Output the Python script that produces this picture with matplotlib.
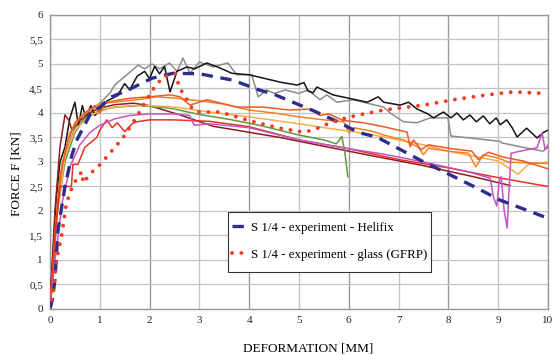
import numpy as np
import matplotlib.pyplot as plt
from matplotlib.patches import Rectangle
from matplotlib.ticker import FuncFormatter

plt.rcParams['font.family'] = ['Liberation Serif', 'DejaVu Serif']

# Helifix experiment (dashed)
helifix_x = [0, 0.05, 0.1, 0.16, 0.3, 0.44, 0.54, 0.8, 1.0, 1.24, 1.57, 2.05, 2.47, 3.0, 3.67,
             4.2, 4.5, 5.28, 5.76, 6.2, 6.56, 7.43, 8.57, 9.04, 9.98]
helifix_y = [0, 0.2, 0.6, 1.6, 2.5, 3.14, 3.45, 3.96, 4.12, 4.33, 4.47, 4.71, 4.81, 4.8, 4.67,
             4.47, 4.38, 4.05, 3.83, 3.6, 3.51, 3.04, 2.47, 2.22, 1.86]

# GFRP experiment (dotted)
gfrp_x = [0, 0.07, 0.13, 0.23, 0.33, 0.44, 0.54, 0.64, 0.67, 0.74, 0.85, 1.0, 1.37, 1.47, 1.74,
          1.94, 2.1, 2.27, 2.51, 2.61, 2.75, 2.85, 2.95, 3.41, 3.75, 4.16, 4.62, 5.08, 5.28,
          5.68, 6.02, 6.69, 7.5, 8.1, 8.77, 9.3, 9.9]
gfrp_y = [0, 0.4, 1.0, 1.47, 2.16, 2.47, 2.67, 2.8, 2.57, 2.67, 2.8, 2.94, 3.38, 3.5, 3.92,
          4.27, 4.53, 4.73, 4.81, 4.5, 4.27, 4.1, 4.02, 4.02, 3.92, 3.8, 3.69, 3.61, 3.65,
          3.82, 3.92, 4.06, 4.16, 4.27, 4.37, 4.43, 4.4]

# other specimens (solid)
black_x = [0, 0.05, 0.12, 0.2, 0.3, 0.4, 0.5, 0.57, 0.65, 0.72, 0.82, 0.9, 1.0, 1.15, 1.35,
           1.5, 1.6, 1.75, 1.9, 2.0, 2.1, 2.2, 2.3, 2.41, 2.55, 2.75, 2.9, 3.15, 3.41, 3.65,
           4.0, 4.62, 4.96, 5.1, 5.18, 5.28, 5.36, 5.68, 6.37, 6.59, 6.7, 7.03, 7.2, 7.37,
           7.59, 7.7, 7.9, 8.05, 8.17, 8.3, 8.43, 8.56, 8.7, 8.83, 8.96, 9.04, 9.17, 9.28,
           9.38, 9.57, 9.78, 9.9, 10.0]
black_y = [0, 1.0, 2.2, 3.0, 3.3, 3.9, 4.22, 3.75, 4.15, 3.9, 4.15, 3.95, 4.05, 4.25, 4.35,
           4.6, 4.47, 4.75, 4.85, 4.7, 4.95, 4.8, 4.95, 4.43, 4.85, 4.94, 4.9, 5.02, 4.92, 4.81,
           4.78, 4.63, 4.57, 4.62, 4.45, 4.41, 4.53, 4.37, 4.22, 4.33, 4.22, 4.16, 4.22, 4.08,
           3.98, 3.9, 4.02, 3.9, 4.0, 3.86, 3.96, 3.82, 3.94, 3.78, 3.9, 3.76, 3.86, 3.7,
           3.51, 3.69, 3.49, 3.6, 3.65]

gray_x = [0, 0.1, 0.25, 0.5, 0.8, 1.0, 1.2, 1.3, 1.45, 1.57, 1.77, 1.9, 2.05, 2.2, 2.4, 2.55,
          2.67, 2.81, 3.0, 3.27, 3.57, 3.75, 4.05, 4.18, 4.35, 4.5, 4.72, 5.0, 5.18, 5.42,
          5.56, 5.76, 6.09, 6.37, 6.7, 6.83, 7.1, 7.37, 7.63, 7.99, 8.05, 8.43, 9.04, 9.07,
          9.64, 9.9, 10.0]
gray_y = [0, 1.5, 3.0, 3.7, 4.0, 4.2, 4.4, 4.57, 4.7, 4.8, 4.98, 4.9, 5.0, 4.9, 5.02, 4.85,
          5.12, 4.81, 5.04, 4.94, 5.02, 4.78, 4.78, 4.33, 4.47, 4.4, 4.47, 4.4, 4.47, 4.27,
          4.37, 4.22, 4.27, 4.2, 4.12, 4.0, 3.82, 3.8, 3.9, 3.9, 3.53, 3.49, 3.42, 3.39,
          3.27, 3.22, 3.3]

maroon_x = [0, 0.1, 0.2, 0.3, 0.38, 0.44, 0.6, 0.8, 1.0, 1.3, 1.67, 2.0, 2.61, 3.27, 4.62,
            5.5, 6.5, 7.43, 8.5, 9.24]
maroon_y = [0, 2.0, 3.3, 3.96, 3.85, 3.65, 3.85, 4.0, 4.1, 4.17, 4.2, 4.15, 3.96, 3.73, 3.5,
            3.32, 3.12, 2.94, 2.7, 2.52]

green_x = [0, 0.15, 0.3, 0.5, 0.7, 1.0, 1.3, 1.8, 2.41, 3.0, 3.6, 4.2, 5.0, 5.5, 5.75, 5.86,
           5.92, 5.98]
green_y = [0, 2.0, 3.0, 3.6, 3.9, 4.05, 4.12, 4.15, 4.1, 3.97, 3.87, 3.75, 3.55, 3.45, 3.37,
           3.52, 3.2, 2.7]

magenta_x = [0, 0.1, 0.25, 0.4, 0.6, 0.8, 1.0, 1.3, 1.6, 2.0, 2.5, 2.8, 2.9, 3.2, 4.0, 5.0,
             6.0, 6.7, 7.5, 8.4, 8.84, 8.9, 8.97, 9.02, 9.06, 9.12, 9.18, 9.22, 9.26, 9.44,
             9.78, 9.88, 9.94, 10.0]
magenta_y = [0, 1.0, 2.2, 2.9, 3.35, 3.6, 3.75, 3.88, 3.95, 3.98, 3.98, 3.95, 3.75, 3.78,
             3.7, 3.45, 3.27, 3.16, 3.0, 2.8, 2.67, 2.3, 2.1, 2.6, 2.7, 2.0, 1.65, 2.5, 3.18,
             3.22, 3.29, 3.59, 3.26, 3.35]

red_x = [0, 0.1, 0.2, 0.43, 0.46, 0.56, 0.7, 0.94, 1.0, 1.14, 1.25, 1.35, 1.5, 1.65, 1.74,
         2.0, 2.47, 3.2, 4.0, 5.0, 6.0, 7.0, 8.0, 9.0, 10.0]
red_y = [0, 1.5, 2.5, 2.5, 2.95, 2.95, 3.3, 3.5, 3.65, 3.86, 3.7, 3.8, 3.62, 3.78, 3.82,
         3.86, 3.86, 3.83, 3.72, 3.45, 3.27, 3.05, 2.88, 2.68, 2.5]

orange1_x = [0, 0.1, 0.2, 0.35, 0.5, 0.7, 0.9, 1.0, 1.1, 1.3, 1.6, 2.0, 2.41, 2.61, 2.81, 3.15,
             3.75, 4.28, 4.82, 5.22, 5.42, 5.6, 5.88, 6.3, 6.7, 7.17, 7.23, 7.3, 7.45, 7.6,
             8.0, 8.47, 8.6, 8.8, 9.1, 9.5, 10.0]
orange1_y = [0, 1.5, 2.7, 3.4, 3.8, 4.0, 4.15, 4.0, 4.2, 4.25, 4.3, 4.33, 4.37, 4.33, 4.16,
             4.27, 4.12, 4.12, 4.06, 4.08, 3.95, 3.98, 3.85, 3.8, 3.72, 3.61, 3.31, 3.45, 3.25,
             3.35, 3.28, 3.22, 3.05, 3.2, 3.1, 3.02, 2.86]

orange2_x = [0, 0.12, 0.25, 0.4, 0.6, 0.8, 1.0, 1.3, 1.74, 2.14, 2.55, 3.0, 3.5, 4.0, 4.5,
             5.0, 5.5, 5.9, 6.0, 6.1, 6.5, 6.7, 7.1, 7.4, 7.5, 7.6, 8.0, 8.4, 8.55, 8.7, 9.0,
             9.2, 9.6, 10.0]
orange2_y = [0, 1.8, 3.0, 3.6, 3.9, 4.05, 4.2, 4.22, 4.27, 4.33, 4.3, 4.25, 4.18, 4.06, 4.0,
             3.92, 3.86, 3.82, 3.6, 3.7, 3.62, 3.55, 3.45, 3.3, 3.15, 3.28, 3.22, 3.18, 2.9,
             3.15, 3.08, 3.0, 2.98, 2.97]

orange3_x = [0, 0.15, 0.3, 0.5, 0.8, 1.2, 1.6, 2.0, 2.5, 3.0, 3.5, 4.0, 4.5, 5.0, 5.5, 6.0,
             6.5, 7.0, 7.5, 8.0, 8.5, 9.0, 9.25, 9.4, 9.6, 10.0]
orange3_y = [0, 2.0, 3.1, 3.65, 3.95, 4.1, 4.15, 4.15, 4.12, 4.05, 3.98, 3.92, 3.85, 3.78,
             3.7, 3.63, 3.55, 3.45, 3.35, 3.22, 3.12, 3.02, 2.85, 2.75, 2.95, 3.0]

solid_series = [
    (gray_x, gray_y, '#8c8c8c'),
    (black_x, black_y, '#151515'),
    (maroon_x, maroon_y, '#8b1e1e'),
    (green_x, green_y, '#5c9a3c'),
    (orange3_x, orange3_y, '#fbab4a'),
    (orange2_x, orange2_y, '#f58220'),
    (orange1_x, orange1_y, '#f05a28'),
    (red_x, red_y, '#ec2f26'),
    (magenta_x, magenta_y, '#c455c4'),
]

fig = plt.figure(figsize=(5.53, 3.55), dpi=100)
ax = fig.add_axes([0.0904, 0.1296, 0.9006, 0.8282])

for xs, ys, col in solid_series:
    ax.plot(xs, ys, color=col, lw=1.1, zorder=3)

ax.plot(helifix_x, helifix_y, color='#2b2e8c', lw=2.4, linestyle=(0, (3.4, 2.3)),
        zorder=4, label='S 1/4 - experiment - Helifix')
ax.plot(gfrp_x, gfrp_y, color='#f03c24', lw=2.8, linestyle=(0, (0.01, 2.4)),
        dash_capstyle='round', zorder=4, label='S 1/4 - experiment - glass (GFRP)')

ax.set_xlim(0, 10)
ax.set_ylim(0, 6)
ax.set_xticks(np.arange(0, 11, 1))
ax.set_yticks(np.arange(0, 6.01, 0.5))

fmt = FuncFormatter(lambda v, p: ('%g' % v).replace('.', ','))
ax.xaxis.set_major_formatter(fmt)
ax.yaxis.set_major_formatter(fmt)
ax.tick_params(length=0, labelsize=8, pad=5, colors='#222222')

# grid: even x lines drawn darker
ax.grid(True, axis='y', color='#c4c4c4', lw=0.9)
for xv in range(0, 11):
    ax.axvline(xv, color='#9a9a9a' if xv % 2 == 0 else '#c4c4c4', lw=1.0, zorder=1)
for s in ax.spines.values():
    s.set_color('#9a9a9a')
    s.set_linewidth(1.0)

ax.set_xlabel('DEFORMATION [MM]', fontsize=9.5)
ax.xaxis.set_label_coords(0.518, -0.115)
ax.set_ylabel('FORCE F [KN]', fontsize=9.5)
ax.yaxis.set_label_coords(-0.056, 0.46)

# legend box drawn separately so its padding can be wider vertically than horizontally
ax.add_patch(Rectangle((0.357, 0.126), 0.408, 0.204, transform=ax.transAxes,
                       facecolor='white', edgecolor='#333333', lw=0.8, zorder=4.8))
leg = ax.legend(loc='upper left', bbox_to_anchor=(0.3655, 0.296),
                fontsize=9.3, frameon=False, handlelength=1.2, borderpad=0,
                labelspacing=1.15, handletextpad=0.3, borderaxespad=0)

fig.savefig('out.png', dpi=100)
